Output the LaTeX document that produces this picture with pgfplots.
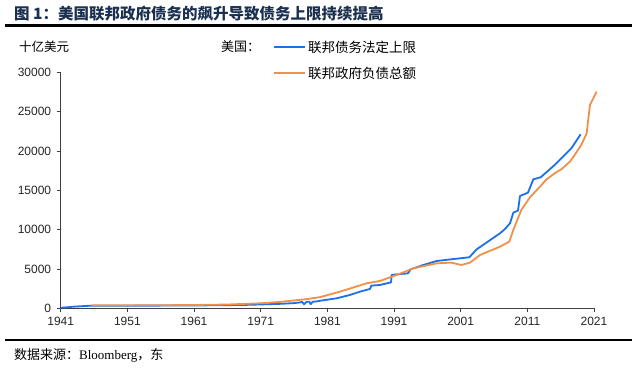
\documentclass[border=0pt]{standalone}
\usepackage{pgfplots}
\pgfplotsset{compat=1.18}
\usepackage{fontspec}
\setmainfont{Liberation Sans}
\newfontfamily\cjk{Noto Sans CJK SC}
\newfontfamily\serifen{Liberation Serif}
\definecolor{debtblue}{HTML}{1E6FE8}
\definecolor{debtorange}{HTML}{F0904A}
\definecolor{titlenavy}{HTML}{1B3050}
\definecolor{axisgray}{HTML}{404040}

\pgfplotstableread{
year value
1941 70
1942 130
1943 210
1944 260
1945.5 330
1946 330
1954 340
1959 350
1962 370
1965 390
1968 420
1970 460
1972 520
1974 570
1976 660
1977.0 760
1977.2 830
1977.5 520
1977.9 830
1978.3 830
1978.5 530
1978.8 830
1979.5 890
1980.0 975
1982.4 1270
1984.4 1700
1985.9 2120
1987.4 2460
1987.6 2880
1988.9 2970
1990.55 3300
1990.65 4250
1993.1 4450
1993.5 4960
1995.4 5510
1997.4 6020
2002.3 6490
2003.4 7500
2006.9 9540
2007.6 10050
2008.4 10810
2008.9 12170
2009.6 12420
2009.9 14290
2011.1 14710
2011.9 16410
2013.0 16660
2015.1 18230
2017.6 20350
2019.0 22130
}\limitdata

\pgfplotstableread{
year value
1945.6 380
1951 380
1956 390
1961 420
1966 480
1971 640
1974 820
1976 1000
1978 1180
1979.9 1420
1982.9 2120
1986.9 3180
1988.9 3480
1991.4 4240
1993.9 5090
1997.4 5720
1999.6 5810
2001.1 5510
2002.4 5810
2003.9 6780
2006.9 7840
2008.3 8480
2008.9 9960
2010.1 12510
2011.4 14120
2012.9 15480
2013.9 16410
2015.1 17170
2016.1 17680
2017.4 18660
2018.1 19500
2019.1 20780
2019.9 22260
2020.1 23740
2020.4 25860
2021.4 27560
}\totaldata

\begin{document}
\begin{tikzpicture}[x=1pt,y=1pt]
\useasboundingbox[fill=white] (0,0) rectangle (640,368);
% title
\node[anchor=west,inner sep=0pt,text=titlenavy] at (14,354.5)
  {\cjk\bfseries\fontsize{15.5}{18}\selectfont 图 1：美国联邦政府债务的飙升导致债务上限持续提高};
\draw[line width=2.5pt,black] (5,342.5) -- (632,342.5);
% unit
\node[anchor=west,inner sep=0pt] at (19,321)
  {\cjk\fontsize{12.5}{15}\selectfont 十亿美元};
% legend
\node[anchor=west,inner sep=0pt] at (221,321)
  {\cjk\fontsize{13}{15}\selectfont 美国：};
\draw[debtblue,line width=1.8pt] (274,320.7) -- (305,320.7);
\node[anchor=west,inner sep=0pt] at (308,321)
  {\cjk\fontsize{13.5}{16}\selectfont 联邦债务法定上限};
\draw[debtorange,line width=1.8pt] (274,295) -- (305,295);
\node[anchor=west,inner sep=0pt] at (308,295)
  {\cjk\fontsize{13.5}{16}\selectfont 联邦政府负债总额};
% source
\draw[line width=1.2pt,black] (5,28) -- (632,28);
\node[anchor=west,inner sep=0pt] at (14,12.5)
  {\fontsize{13}{15}\selectfont{\cjk 数据来源：}{\serifen Bloomberg}{\cjk ，东}};

\begin{axis}[
  at={(60.7pt,59.7pt)}, anchor=south west,
  scale only axis,
  width=533.3pt, height=235.9pt,
  xmin=1941, xmax=2021, ymin=0, ymax=30000,
  axis x line*=bottom, axis y line*=left,
  axis line style={axisgray,line width=0.8pt,-},
  xtick={1941,1951,1961,1971,1981,1991,2001,2011,2021},
  ytick={0,5000,10000,15000,20000,25000,30000},
  scaled ticks=false,
  tick align=outside,
  major tick length=4pt,
  tick style={axisgray,line width=0.8pt},
  /pgf/number format/1000 sep={},
  /pgf/number format/assume math mode=true,
  ticklabel style={font=\fontsize{12}{14}\selectfont, text=black!85},
  yticklabel style={xshift=-2pt},
  xticklabel style={yshift=-1pt},
  clip=false,
]
\addplot[debtblue, line width=1.8pt, line join=round] table[x=year,y=value] {\limitdata};
\addplot[debtorange, line width=1.8pt, line join=round] table[x=year,y=value] {\totaldata};
\end{axis}
\end{tikzpicture}
\end{document}
